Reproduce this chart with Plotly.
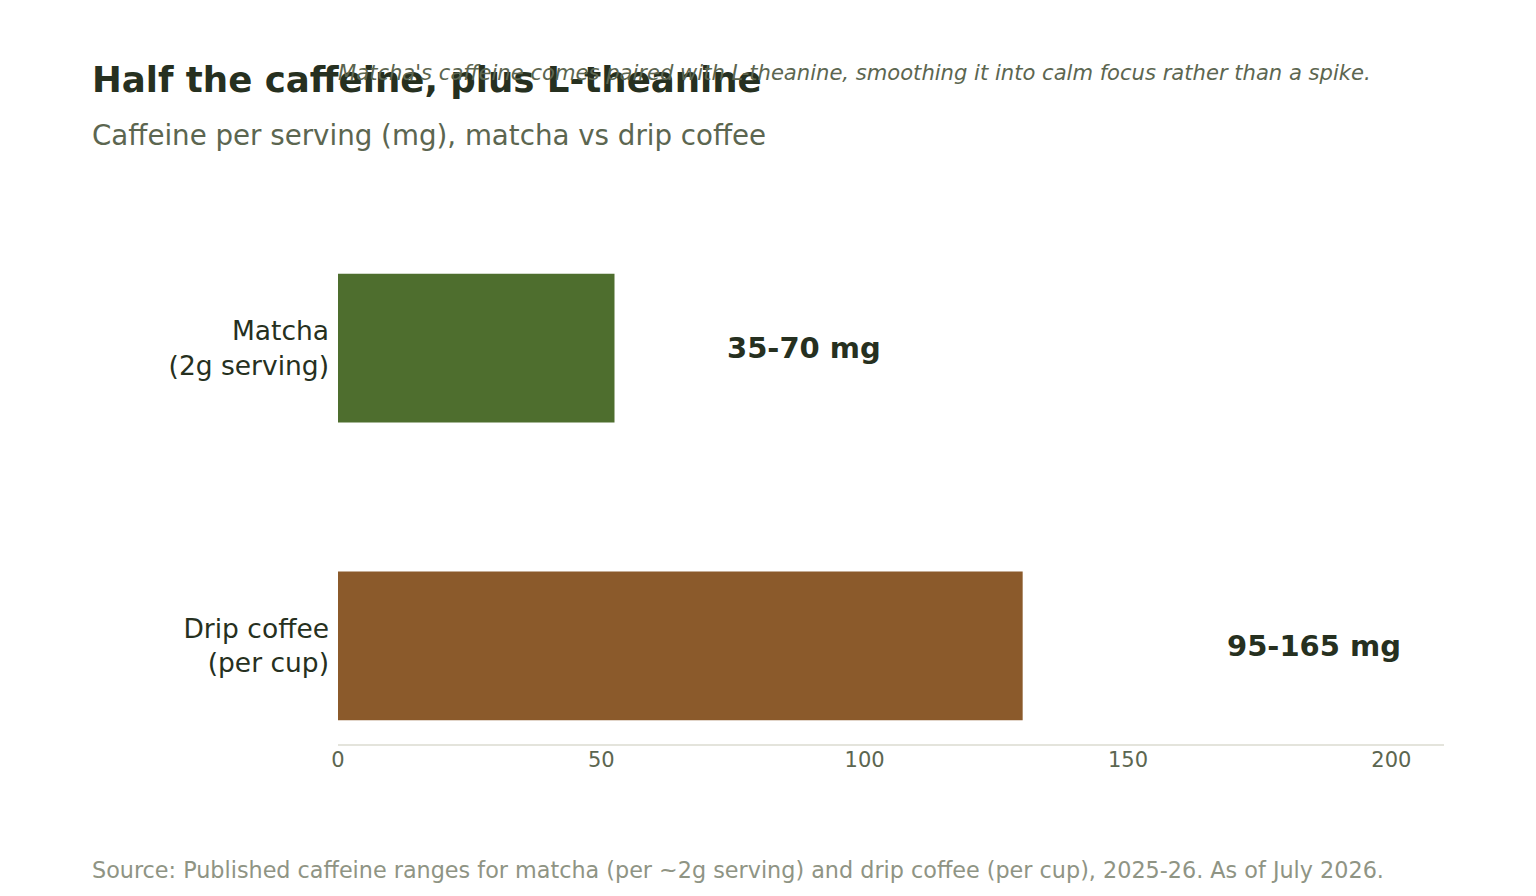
import plotly.graph_objects as go

# Dados
categorias = ["Matcha<br>(2g serving)", "Drip coffee<br>(per cup)"]
cafeina_min = [35, 95]
cafeina_max = [70, 165]
cafeina_media = [52.5, 130]
rotulos = ["35-70 mg", "95-165 mg"]
cores = ["#4e6e2e", "#8b5a2b"]

# Área do gráfico (px dentro da figura)
L, R, T, B = 330, 100, 242, 160
W, H = 1536, 896
pw, ph = W - L - R, H - T - B


def px_x(x):
    # posição horizontal na tela -> coordenada paper
    return (x - 8 - L) / pw


def px_y(y):
    # posição vertical na tela -> coordenada paper
    return (H - B - (y - 8)) / ph


fig = go.Figure()

fig.add_trace(go.Bar(
    x=cafeina_media,
    y=categorias,
    orientation="h",
    marker=dict(color=cores, line=dict(width=0)),
    width=0.5,
    hoverinfo="skip",
))

# Rótulos de faixa ao lado das barras
for cat, hi, txt in zip(categorias, cafeina_max, rotulos):
    fig.add_annotation(
        x=hi, y=cat, text=f"<b>{txt}</b>",
        xanchor="left", xshift=18, showarrow=False,
        font=dict(size=29, color="#263020"),
    )

fig.update_layout(
    width=W, height=H,
    margin=dict(l=L, r=R, t=T, b=B),
    paper_bgcolor="white", plot_bgcolor="white",
    font=dict(family="DejaVu Sans", color="#263020"),
    showlegend=False,
    title=dict(
        text="<b>Half the caffeine, plus L-theanine</b>",
        x=84 / W, xanchor="left", y=1 - 72 / H, yanchor="middle",
        font=dict(size=35.6, color="#263020"),
    ),
    xaxis=dict(
        range=[0, 210], tickvals=[0, 50, 100, 150, 200],
        showgrid=False, zeroline=False,
        showline=True, linecolor="#e4e4dc", linewidth=2,
        tickfont=dict(size=21, color="#5c6650"), ticks="",
        ticklabelstandoff=-4,
    ),
    yaxis=dict(
        range=[1.33, -0.33], showgrid=False, zeroline=False,
        tickfont=dict(size=26.5, color="#263020"), ticks="", ticklabelstandoff=8,
    ),
)

fig.add_annotation(
    text="Caffeine per serving (mg), matcha vs drip coffee",
    xref="paper", yref="paper", x=px_x(90), y=px_y(135),
    xanchor="left", yanchor="middle", showarrow=False,
    font=dict(size=27.7, color="#5c6650"),
)
fig.add_annotation(
    text="<i>Matcha's caffeine comes paired with L-theanine, smoothing it into calm focus rather than a spike.</i>",
    xref="paper", yref="paper", x=px_x(336), y=px_y(72),
    xanchor="left", yanchor="middle", showarrow=False,
    font=dict(size=21.1, color="#5c6650"),
)
fig.add_annotation(
    text="Source: Published caffeine ranges for matcha (per ~2g serving) and drip coffee (per cup), 2025-26. As of July 2026.",
    xref="paper", yref="paper", x=px_x(90), y=px_y(870),
    xanchor="left", yanchor="middle", showarrow=False,
    font=dict(size=22.3, color="#8f9484"),
)

fig.write_html("out.html")
